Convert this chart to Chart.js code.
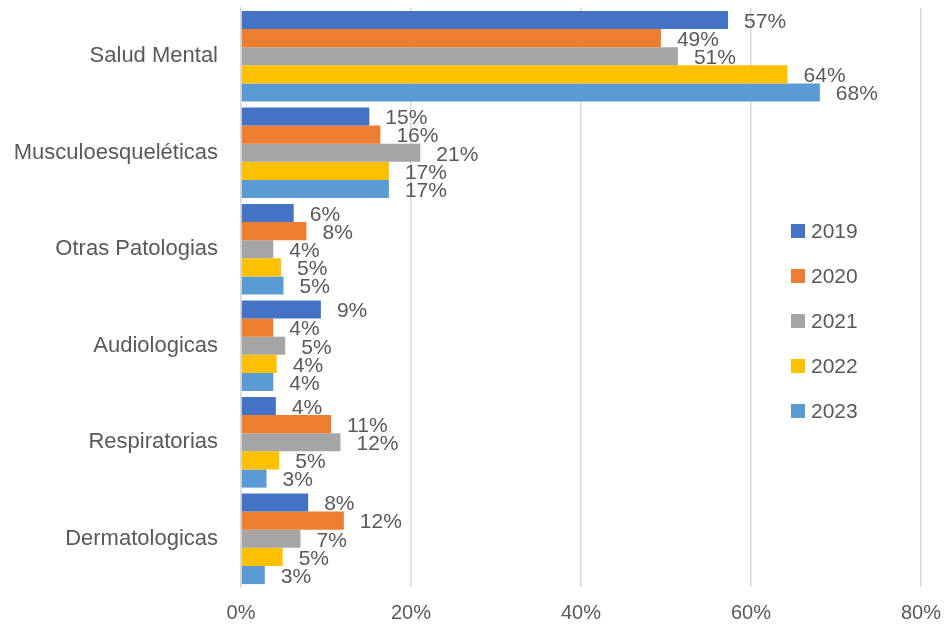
<!DOCTYPE html>
<html>
<head>
<meta charset="utf-8">
<script src="https://cdn.jsdelivr.net/npm/chart.js@4/dist/chart.umd.min.js"></script>
<style>
    body { margin: 0; background: #fff; }
    #wrap { position: relative; width: 945px; height: 627px; }
    #legend { position: absolute; left: 791px; top: 219px; font-family: "Liberation Sans", Arial, sans-serif; font-size: 21px; color: #595959; }
    #legend div { height: 45px; display: flex; align-items: flex-start; }
    #legend span.box { width: 14px; height: 14px; margin: 5px 6px 0 0; display: inline-block; }
</style>
</head>
<body>
<div id="wrap">
    <canvas id="chart" width="945" height="627"></canvas>
    <div id="legend"></div>
</div>
<script>
// ========== DATOS ==========
const categorias = ["Salud Mental", "Musculoesqueléticas", "Otras Patologias", "Audiologicas", "Respiratorias", "Dermatologicas"];
const anios = ["2019", "2020", "2021", "2022", "2023"];
const valores2019 = [57.3, 15.1, 6.2, 9.4, 4.1, 7.9];
const valores2020 = [49.4, 16.4, 7.7, 3.8, 10.6, 12.1];
const valores2021 = [51.4, 21.1, 3.8, 5.2, 11.7, 7.0];
const valores2022 = [64.3, 17.4, 4.7, 4.2, 4.5, 4.9];
const valores2023 = [68.1, 17.4, 5.0, 3.8, 3.0, 2.8];
const ticksX = [0, 20, 40, 60, 80];
const colores = ["#4472C4", "#ED7D31", "#A5A5A5", "#FFC000", "#5B9BD5"];

const series = [valores2019, valores2020, valores2021, valores2022, valores2023];
const FUENTE = '"Liberation Sans", Arial, sans-serif';
const GRIS = "#595959";

// ========== ETIQUETAS DE VALOR ==========
const etiquetas = {
    id: "etiquetas",
    afterDatasetsDraw(chart) {
        const c = chart.ctx;
        c.save();
        c.font = "21px " + FUENTE;
        c.fillStyle = GRIS;
        c.textAlign = "left";
        c.textBaseline = "middle";
        chart.data.datasets.forEach((ds, i) => {
            chart.getDatasetMeta(i).data.forEach((bar, j) => {
                c.fillText(Math.round(ds.data[j]) + "%", bar.x + 16, bar.y + 2);
            });
        });
        c.restore();
    },
};

// ========== GRÁFICO ==========
new Chart(document.getElementById("chart"), {
    type: "bar",
    data: {
        labels: categorias,
        datasets: anios.map((a, i) => ({
            label: a,
            data: series[i],
            backgroundColor: colores[i],
            categoryPercentage: 0.94,
            barPercentage: 1,
        })),
    },
    options: {
        indexAxis: "y",
        responsive: false,
        animation: false,
        layout: { padding: { top: 8, right: 24, left: 0, bottom: 0 } },
        plugins: { legend: { display: false }, tooltip: { enabled: false } },
        scales: {
            x: {
                min: 0,
                max: 80,
                afterBuildTicks: (s) => { s.ticks = ticksX.map((v) => ({ value: v })); },
                afterFit: (s) => {
                    s.height = 40;
                    s.paddingLeft = 0;
                    s.paddingRight = 0;
                },
                grid: { color: "#d9d9d9", lineWidth: 1.5, drawTicks: false },
                border: { display: false },
                ticks: {
                    padding: 14,
                    color: GRIS,
                    font: { family: FUENTE, size: 20 },
                    callback: (v) => v + "%",
                },
            },
            y: {
                afterFit: (s) => {
                    s.width = 241;
                    s.paddingTop = 0;
                    s.paddingBottom = 0;
                },
                grid: { display: false },
                border: { color: "#d9d9d9", width: 1.5 },
                ticks: {
                    padding: 15,
                    color: GRIS,
                    font: { family: FUENTE, size: 22 },
                },
            },
        },
    },
    plugins: [etiquetas],
});

// ========== LEYENDA ==========
document.getElementById("legend").innerHTML = anios
    .map((a, i) => `<div><span class="box" style="background:${colores[i]}"></span>${a}</div>`)
    .join("");
</script>
</body>
</html>
